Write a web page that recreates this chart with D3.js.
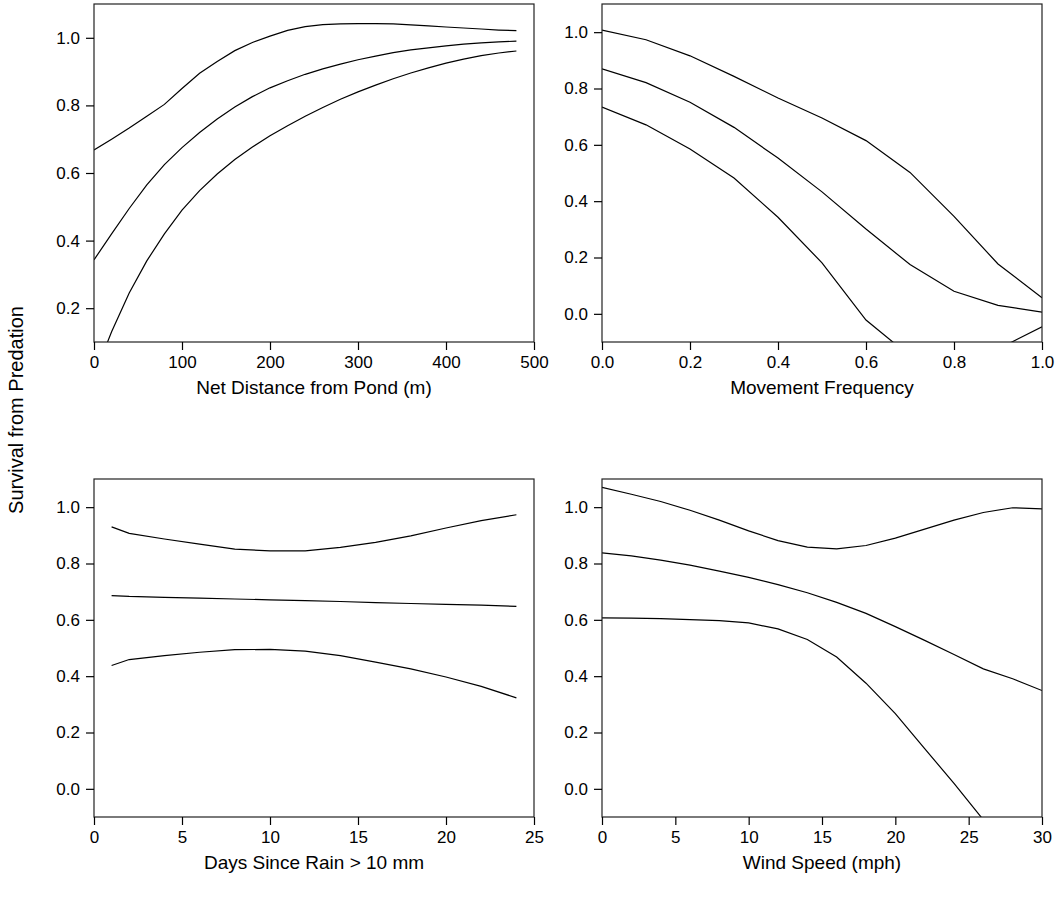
<!DOCTYPE html>
<html lang="en">
<head>
    <meta charset="UTF-8">
    <title>Survival from Predation</title>
    <script src="https://d3js.org/d3.v7.min.js"></script>
    <style>
        body { margin: 0; background: #fff; }
        text { font-family: "Liberation Sans", Arial, sans-serif; fill: #000; }
    </style>
</head>
<body>
    <div id="chart"></div>
    <script>
        // Net distance from pond (m)
        const distX = [0, 20, 40, 60, 80, 100, 120, 140, 160, 180, 200, 220, 240, 260, 280, 300, 320, 340, 360, 380, 400, 420, 440, 460, 480];
        const distUpper = [0.668, 0.700, 0.733, 0.768, 0.803, 0.850, 0.895, 0.930, 0.962, 0.986, 1.005, 1.022, 1.033, 1.039, 1.041, 1.042, 1.042, 1.041, 1.038, 1.035, 1.032, 1.029, 1.026, 1.023, 1.021];
        const distMid = [0.343, 0.420, 0.495, 0.565, 0.625, 0.675, 0.720, 0.760, 0.795, 0.826, 0.852, 0.873, 0.892, 0.908, 0.922, 0.935, 0.946, 0.956, 0.964, 0.970, 0.976, 0.981, 0.985, 0.988, 0.990];
        const distLower = [0.000, 0.130, 0.245, 0.340, 0.420, 0.490, 0.548, 0.597, 0.640, 0.677, 0.710, 0.740, 0.768, 0.794, 0.818, 0.840, 0.860, 0.879, 0.896, 0.911, 0.925, 0.937, 0.947, 0.955, 0.961];

        // Movement frequency
        const moveX = [0, 0.1, 0.2, 0.3, 0.4, 0.5, 0.6, 0.7, 0.8, 0.9, 1.0];
        const moveUpper = [1.007, 0.973, 0.916, 0.843, 0.766, 0.695, 0.615, 0.502, 0.346, 0.177, 0.057];
        const moveMid = [0.870, 0.821, 0.751, 0.662, 0.553, 0.433, 0.301, 0.175, 0.080, 0.030, 0.006];
        const moveLower = [0.734, 0.671, 0.585, 0.482, 0.343, 0.181, -0.022, -0.150, -0.200, -0.125, -0.046];

        // Days since rain > 10 mm
        const rainX = [1, 2, 4, 6, 8, 10, 12, 14, 16, 18, 20, 22, 24];
        const rainUpper = [0.930, 0.907, 0.887, 0.869, 0.851, 0.845, 0.845, 0.857, 0.875, 0.898, 0.926, 0.952, 0.973];
        const rainMid = [0.686, 0.683, 0.680, 0.677, 0.674, 0.671, 0.668, 0.665, 0.661, 0.658, 0.655, 0.652, 0.648];
        const rainLower = [0.438, 0.459, 0.473, 0.485, 0.494, 0.495, 0.489, 0.473, 0.450, 0.426, 0.397, 0.364, 0.323];

        // Wind speed (mph)
        const windX = [0, 2, 4, 6, 8, 10, 12, 14, 16, 18, 20, 22, 24, 26, 28, 30];
        const windUpper = [1.070, 1.046, 1.020, 0.989, 0.954, 0.916, 0.881, 0.858, 0.852, 0.864, 0.890, 0.922, 0.954, 0.981, 0.998, 0.994];
        const windMid = [0.838, 0.827, 0.812, 0.794, 0.773, 0.751, 0.725, 0.696, 0.662, 0.623, 0.576, 0.527, 0.477, 0.426, 0.391, 0.349];
        const windLower = [0.607, 0.606, 0.604, 0.601, 0.597, 0.589, 0.568, 0.530, 0.468, 0.375, 0.267, 0.143, 0.019, -0.110, -0.240, -0.370];

        const yTicksTop = [0.2, 0.4, 0.6, 0.8, 1.0];
        const yTicks = [0.0, 0.2, 0.4, 0.6, 0.8, 1.0];

        const panels = [
            { x: distX, series: [distUpper, distMid, distLower], xDomain: [0, 500], xTicks: [0, 100, 200, 300, 400, 500], xFmt: d3.format("d"),
              yDomain: [0.1, 1.1], yTicks: yTicksTop, title: "Net Distance from Pond (m)", left: 94, top: 4 },
            { x: moveX, series: [moveUpper, moveMid, moveLower], xDomain: [0, 1], xTicks: [0, 0.2, 0.4, 0.6, 0.8, 1.0], xFmt: d3.format(".1f"),
              yDomain: [-0.1, 1.1], yTicks: yTicks, title: "Movement Frequency", left: 602, top: 4 },
            { x: rainX, series: [rainUpper, rainMid, rainLower], xDomain: [0, 25], xTicks: [0, 5, 10, 15, 20, 25], xFmt: d3.format("d"),
              yDomain: [-0.1, 1.1], yTicks: yTicks, title: "Days Since Rain > 10 mm", left: 94, top: 479 },
            { x: windX, series: [windUpper, windMid, windLower], xDomain: [0, 30], xTicks: [0, 5, 10, 15, 20, 25, 30], xFmt: d3.format("d"),
              yDomain: [-0.1, 1.1], yTicks: yTicks, title: "Wind Speed (mph)", left: 602, top: 479 }
        ];

        const width = 1064, height = 903;
        const pw = 440, ph = 338;

        const svg = d3.select("#chart").append("svg")
            .attr("width", width)
            .attr("height", height);

        panels.forEach((p, i) => {
            const g = svg.append("g").attr("transform", `translate(${p.left},${p.top})`);
            const x = d3.scaleLinear().domain(p.xDomain).range([0, pw]);
            const y = d3.scaleLinear().domain(p.yDomain).range([ph, 0]);

            g.append("clipPath").attr("id", "clip" + i)
                .append("rect").attr("width", pw).attr("height", ph);

            const line = d3.line()
                .x((d, j) => x(p.x[j]))
                .y(d => y(d));

            g.append("g").attr("clip-path", `url(#clip${i})`)
                .selectAll("path")
                .data(p.series)
                .join("path")
                .attr("d", line)
                .attr("fill", "none")
                .attr("stroke", "#000")
                .attr("stroke-width", 1.2);

            // frame
            g.append("rect")
                .attr("x", 0).attr("y", 0)
                .attr("width", pw).attr("height", ph)
                .attr("fill", "none")
                .attr("stroke", "#222")
                .attr("stroke-width", 1.2);

            const xAxis = g.append("g")
                .attr("transform", `translate(0,${ph})`)
                .call(d3.axisBottom(x).tickValues(p.xTicks).tickFormat(p.xFmt).tickSize(8).tickPadding(6));
            xAxis.select(".domain").remove();

            const yAxis = g.append("g")
                .call(d3.axisLeft(y).tickValues(p.yTicks).tickFormat(d3.format(".1f")).tickSize(8).tickPadding(6));
            yAxis.select(".domain").remove();

            g.selectAll(".tick line").attr("stroke", "#000").attr("stroke-width", 1.2);
            g.selectAll(".tick text").style("font-size", "17px")
                .style("font-family", "'Liberation Sans', Arial, sans-serif").attr("fill", "#000");

            g.append("text")
                .attr("x", pw / 2)
                .attr("y", ph + 52)
                .attr("text-anchor", "middle")
                .style("font-size", "19px")
                .text(p.title);
        });

        svg.append("text")
            .attr("transform", "translate(23,410) rotate(-90)")
            .attr("text-anchor", "middle")
            .style("font-size", "20px")
            .text("Survival from Predation");
    </script>
</body>
</html>
